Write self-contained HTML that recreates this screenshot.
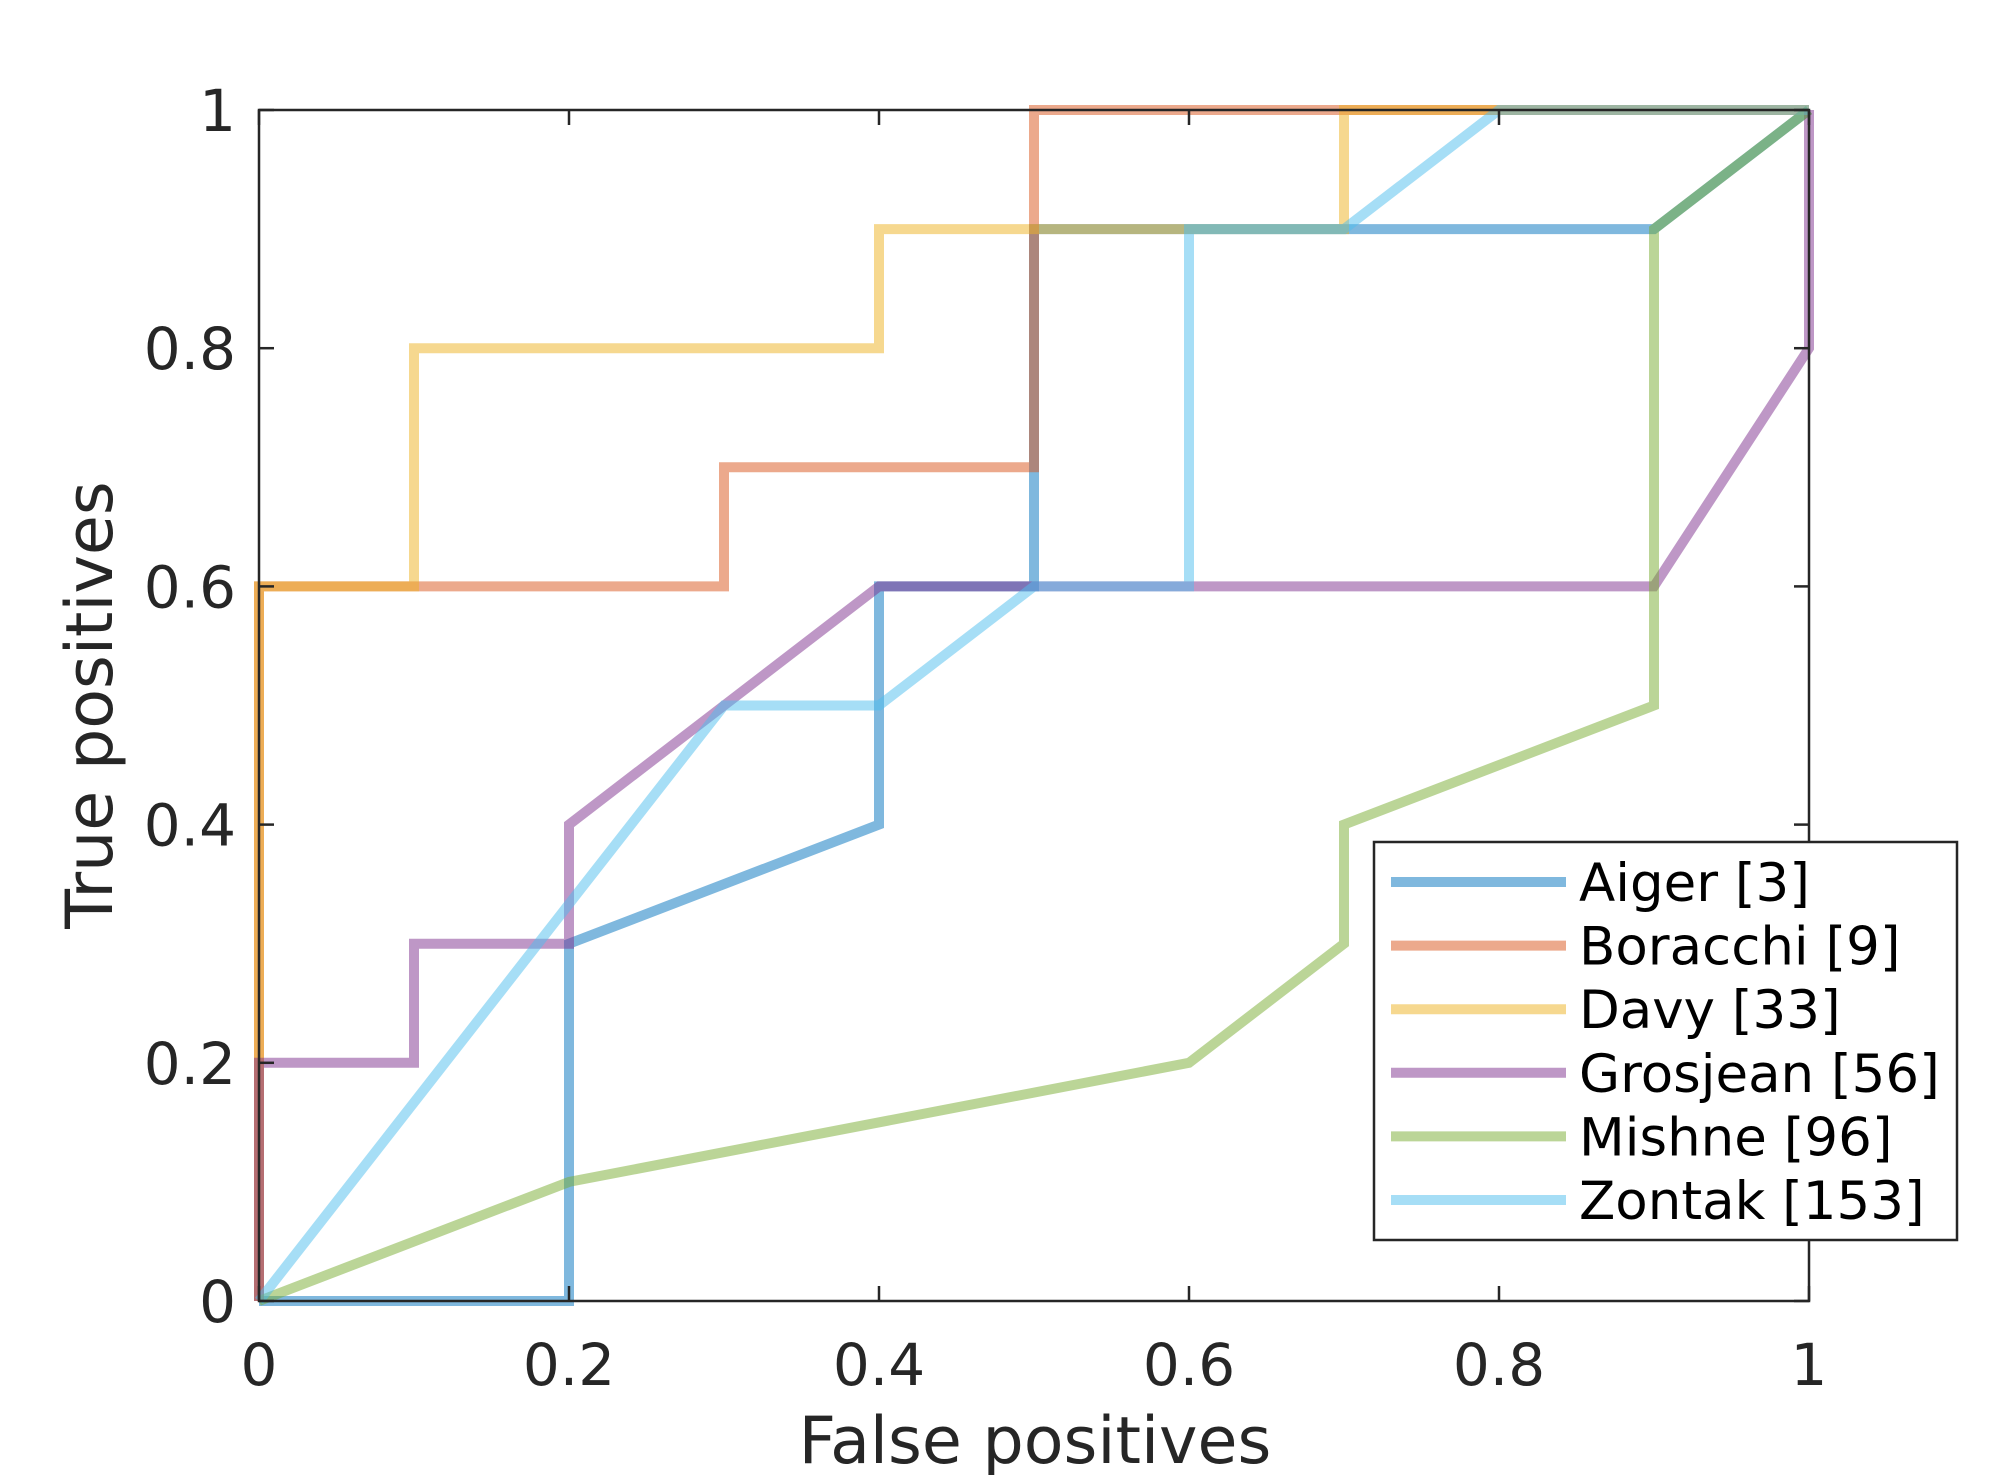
<!DOCTYPE html>
<html><head><meta charset="utf-8"><style>
html,body{margin:0;padding:0;background:#fff;}
svg{display:block;font-family:"DejaVu Sans","Liberation Sans",sans-serif;}
</style></head><body>
<svg id="chart" width="2000" height="1475" viewBox="0 0 2000 1475" xmlns="http://www.w3.org/2000/svg">
<rect width="2000" height="1475" fill="#fff"/>
<g id="series"></g>
<g id="axes"></g>
<g id="legend"></g>
</svg>
<script>
const xTicks = [0, 0.2, 0.4, 0.6, 0.8, 1];
const yTicks = [0, 0.2, 0.4, 0.6, 0.8, 1];
const xTickLabels = ["0", "0.2", "0.4", "0.6", "0.8", "1"];
const yTickLabels = ["0", "0.2", "0.4", "0.6", "0.8", "1"];
const seriesNames = ["Aiger [3]", "Boracchi [9]", "Davy [33]", "Grosjean [56]", "Mishne [96]", "Zontak [153]"];
const aigerX = [0, 0.2, 0.2, 0.4, 0.4, 0.5, 0.5, 0.9, 1];
const aigerY = [0, 0, 0.3, 0.4, 0.6, 0.6, 0.9, 0.9, 1];
const boracchiX = [0, 0, 0.3, 0.3, 0.5, 0.5, 1];
const boracchiY = [0, 0.6, 0.6, 0.7, 0.7, 1, 1];
const davyX = [0, 0, 0.1, 0.1, 0.4, 0.4, 0.7, 0.7, 1];
const davyY = [0, 0.6, 0.6, 0.8, 0.8, 0.9, 0.9, 1, 1];
const grosjeanX = [0, 0, 0.1, 0.1, 0.2, 0.2, 0.4, 0.9, 1, 1];
const grosjeanY = [0, 0.2, 0.2, 0.3, 0.3, 0.4, 0.6, 0.6, 0.8, 1];
const mishneX = [0, 0.2, 0.6, 0.7, 0.7, 0.9, 0.9, 1];
const mishneY = [0, 0.1, 0.2, 0.3, 0.4, 0.5, 0.9, 1];
const zontakX = [0, 0.3, 0.4, 0.5, 0.6, 0.6, 0.7, 0.8, 1];
const zontakY = [0, 0.5, 0.5, 0.6, 0.6, 0.9, 0.9, 1, 1];

const NS = "http://www.w3.org/2000/svg";
const L = 259, R = 1809, T = 110, B = 1301;
const sx = v => L + v * (R - L);
const sy = v => B - v * (B - T);
const colors = ["#0072BD", "#D95319", "#EDB120", "#7E2F8E", "#77AC30", "#4DBEEE"];
const allX = [aigerX, boracchiX, davyX, grosjeanX, mishneX, zontakX];
const allY = [aigerY, boracchiY, davyY, grosjeanY, mishneY, zontakY];
const slugs = ["aiger", "boracchi", "davy", "grosjean", "mishne", "zontak"];

function mk(tag, attrs, parent) {
  const e = document.createElementNS(NS, tag);
  for (const k in attrs) e.setAttribute(k, attrs[k]);
  parent.appendChild(e);
  return e;
}
const gS = document.getElementById("series");
const gA = document.getElementById("axes");
const gL = document.getElementById("legend");

allX.forEach((xs, i) => {
  const pts = xs.map((x, j) => sx(x) + "," + sy(allY[i][j])).join(" ");
  const p = mk("polyline", {points: pts, fill: "none", stroke: colors[i], "stroke-width": 10, "stroke-opacity": 0.5, "stroke-linejoin": "miter"}, gS);
  
  
});

const frame = mk("rect", {x: L, y: T, width: R - L, height: B - T, fill: "none", stroke: "#262626", "stroke-width": 2.5}, gA);



xTicks.forEach((v, i) => {
  const x = sx(v);
  mk("line", {x1: x, y1: B, x2: x, y2: B - 15, stroke: "#262626", "stroke-width": 2.5}, gA);
  mk("line", {x1: x, y1: T, x2: x, y2: T + 15, stroke: "#262626", "stroke-width": 2.5}, gA);
  const t = mk("text", {x: x, y: 1385, "text-anchor": "middle", "font-size": 58, fill: "#262626"}, gA);
  t.textContent = xTickLabels[i];
  
  
});
yTicks.forEach((v, i) => {
  const y = sy(v);
  mk("line", {x1: L, y1: y, x2: L + 15, y2: y, stroke: "#262626", "stroke-width": 2.5}, gA);
  mk("line", {x1: R, y1: y, x2: R - 15, y2: y, stroke: "#262626", "stroke-width": 2.5}, gA);
  const t = mk("text", {x: 236, y: y + 21, "text-anchor": "end", "font-size": 58, fill: "#262626"}, gA);
  t.textContent = yTickLabels[i];
  
  
});
const xt = mk("text", {x: 1035, y: 1463, "text-anchor": "middle", "font-size": 65, fill: "#262626"}, gA);
xt.textContent = "False positives";


const yt = mk("text", {x: 0, y: 0, "text-anchor": "middle", "font-size": 65, fill: "#262626", transform: "translate(112,705) rotate(-90)"}, gA);
yt.textContent = "True positives";



const box = mk("rect", {x: 1374, y: 842, width: 583, height: 398, fill: "#fff", stroke: "#262626", "stroke-width": 2.5}, gL);


seriesNames.forEach((n, i) => {
  const y = 882 + i * 63.6;
  const ln = mk("line", {x1: 1391, y1: y, x2: 1566, y2: y, stroke: colors[i], "stroke-width": 10, "stroke-opacity": 0.5}, gL);
  
  
  const t = mk("text", {x: 1579, y: y + 19, "font-size": 53, fill: "#000"}, gL);
  t.textContent = n;
  
  
});
</script>
</body></html>
